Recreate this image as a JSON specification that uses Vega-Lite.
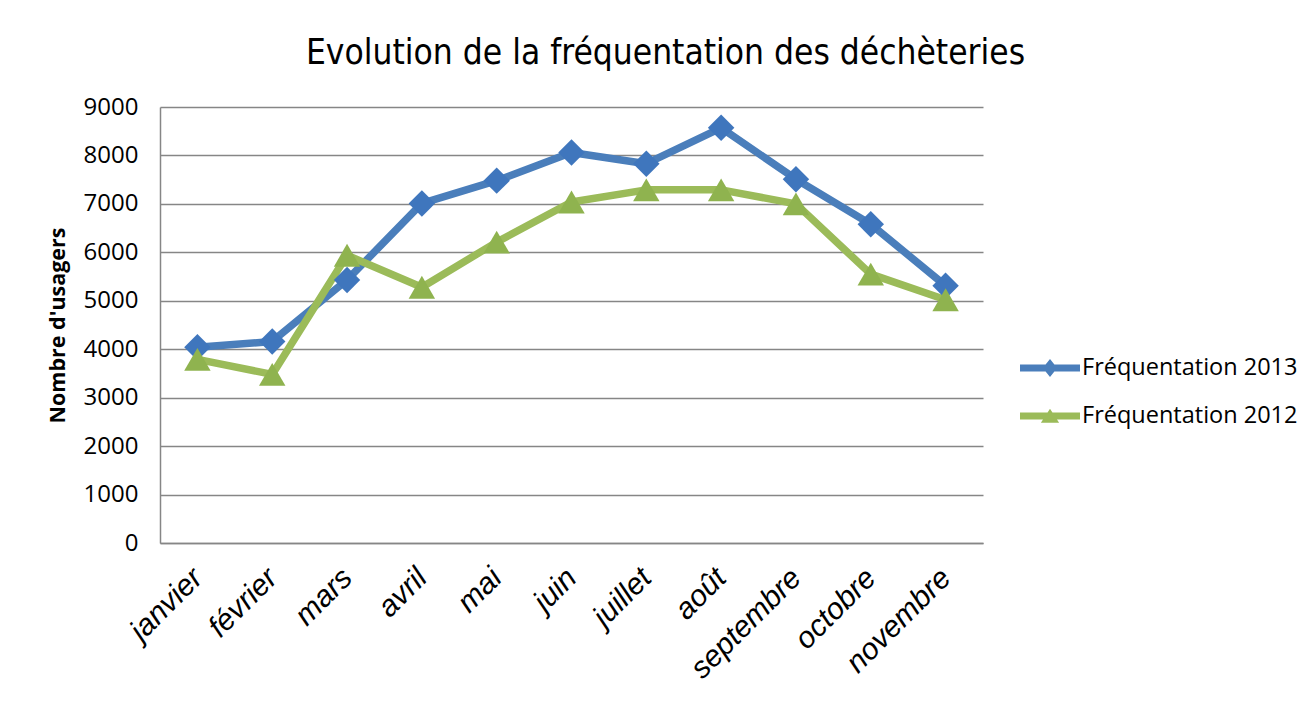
{
  "$schema": "https://vega.github.io/schema/vega-lite/v6.json",
  "width": 823,
  "height": 436,
  "autosize": {"type": "none"},
  "padding": {"left": 160, "top": 107, "right": 329, "bottom": 158},
  "background": "white",
  "title": {
    "text": "Evolution de la fréquentation des déchèteries",
    "font": "Liberation Sans Narrow, DejaVu Sans Condensed, Liberation Sans",
    "fontSize": 35,
    "fontWeight": "normal",
    "color": "black",
    "anchor": "middle",
    "dx": 94,
    "offset": 24
  },
  "config": {
    "view": {"stroke": null},
    "axis": {"domainColor": "#868686", "domainWidth": 1.5, "gridColor": "#868686", "gridWidth": 1.5, "ticks": false}
  },
  "data": {
    "values": [
      {"mois": "janvier", "serie": "Fréquentation 2013", "usagers": 4040},
      {"mois": "février", "serie": "Fréquentation 2013", "usagers": 4160},
      {"mois": "mars", "serie": "Fréquentation 2013", "usagers": 5430},
      {"mois": "avril", "serie": "Fréquentation 2013", "usagers": 7010},
      {"mois": "mai", "serie": "Fréquentation 2013", "usagers": 7480},
      {"mois": "juin", "serie": "Fréquentation 2013", "usagers": 8060},
      {"mois": "juillet", "serie": "Fréquentation 2013", "usagers": 7830},
      {"mois": "août", "serie": "Fréquentation 2013", "usagers": 8570},
      {"mois": "septembre", "serie": "Fréquentation 2013", "usagers": 7510},
      {"mois": "octobre", "serie": "Fréquentation 2013", "usagers": 6580},
      {"mois": "novembre", "serie": "Fréquentation 2013", "usagers": 5310},
      {"mois": "janvier", "serie": "Fréquentation 2012", "usagers": 3790},
      {"mois": "février", "serie": "Fréquentation 2012", "usagers": 3480},
      {"mois": "mars", "serie": "Fréquentation 2012", "usagers": 5940},
      {"mois": "avril", "serie": "Fréquentation 2012", "usagers": 5280},
      {"mois": "mai", "serie": "Fréquentation 2012", "usagers": 6210},
      {"mois": "juin", "serie": "Fréquentation 2012", "usagers": 7040},
      {"mois": "juillet", "serie": "Fréquentation 2012", "usagers": 7290},
      {"mois": "août", "serie": "Fréquentation 2012", "usagers": 7290},
      {"mois": "septembre", "serie": "Fréquentation 2012", "usagers": 7000},
      {"mois": "octobre", "serie": "Fréquentation 2012", "usagers": 5550},
      {"mois": "novembre", "serie": "Fréquentation 2012", "usagers": 5020}
    ]
  },
  "encoding": {
    "x": {
      "field": "mois",
      "type": "ordinal",
      "sort": null,
      "scale": {"type": "point", "padding": 0.5},
      "axis": {
        "title": null,
        "labelAngle": -45,
        "labelAlign": "right",
        "labelBaseline": "middle",
        "labelFont": "Liberation Sans",
        "labelFontStyle": "italic",
        "labelFontSize": 30,
        "labelColor": "black",
        "labelPadding": 30,
        "grid": false
      }
    },
    "y": {
      "field": "usagers",
      "type": "quantitative",
      "scale": {"domain": [0, 9000], "nice": false},
      "axis": {
        "values": [0, 1000, 2000, 3000, 4000, 5000, 6000, 7000, 8000, 9000],
        "title": "Nombre d'usagers",
        "titleFont": "Open Sans",
        "titleFontSize": 21.5,
        "titleFontWeight": "bold",
        "titleColor": "black",
        "titlePadding": 14,
        "labelFont": "Open Sans",
        "labelFontSize": 24,
        "labelColor": "black",
        "labelPadding": 22,
        "format": "d"
      }
    }
  },
  "layer": [
    {
      "mark": {"type": "line", "strokeWidth": 7.5, "strokeJoin": "round", "strokeCap": "round"},
      "encoding": {
        "color": {
          "field": "serie",
          "type": "nominal",
          "sort": ["Fréquentation 2013", "Fréquentation 2012"],
          "scale": {"domain": ["Fréquentation 2013", "Fréquentation 2012"], "range": ["#4a7ebb", "#9bbb59"]},
          "legend": {
            "title": null,
            "orient": "none",
            "legendX": 866,
            "legendY": 237,
            "padding": 0,
            "symbolSize": 2304,
            "rowPadding": 12,
            "labelOffset": 8,
            "labelFont": "Open Sans",
            "labelFontSize": 23.5,
            "labelColor": "black",
            "labelLimit": 400,
            "encode": {
              "symbols": {
                "update": {
                  "shape": {"signal": "datum.value === 'Fréquentation 2013' ? 'M-1.25,-0.15 L1.25,-0.15 L1.25,0.15 L-1.25,0.15 Z M0,-0.37 L0.3,0 L0,0.37 L-0.3,0 Z' : 'M-1.25,-0.15 L1.25,-0.15 L1.25,0.15 L-1.25,0.15 Z M-0.38,0.28 L0,-0.3 L0.38,0.28 Z'"},
                  "fill": {"signal": "datum.value === 'Fréquentation 2013' ? '#4a7ebb' : '#9bbb59'"},
                  "fillOpacity": {"value": 1},
                  "opacity": {"value": 1},
                  "strokeWidth": {"value": 0}
                }
              }
            }
          }
        }
      }
    },
    {
      "transform": [{"filter": "datum.serie === 'Fréquentation 2013'"}],
      "mark": {"type": "point", "shape": "diamond", "filled": true, "opacity": 1, "size": 700, "color": "#3f76bd"}
    },
    {
      "transform": [{"filter": "datum.serie === 'Fréquentation 2012'"}],
      "mark": {"type": "point", "shape": "triangle-up", "filled": true, "opacity": 1, "size": 700, "color": "#8fb34f"}
    }
  ]
}
